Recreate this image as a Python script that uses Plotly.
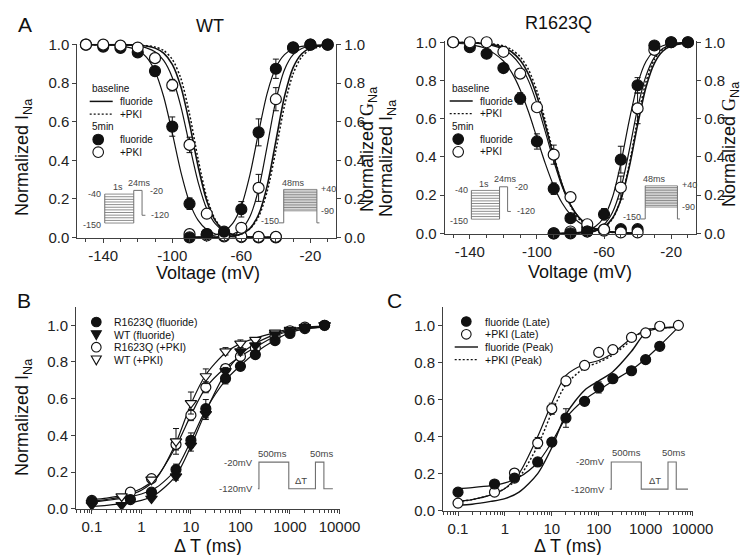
import plotly.graph_objects as go

W, H = 749, 555
FONT = "Arial, Liberation Sans, sans-serif"
INK = "#111111"
AXC = "#404040"
GREY = "#707070"
DOTS = "2px,2px"

# ---------------- Panel A : steady-state inactivation / activation ----------------
V_inact = [-150, -140, -130, -120, -110, -100, -90, -80, -70, -60, -50, -40]
V_act = [-90, -80, -70, -60, -50, -40, -30, -20, -10]

WT_inact_F = [1.0, 0.99, 0.983, 0.96, 0.863, 0.575, 0.175, 0.017, 0.005, 0.002, 0.0, 0.0]
WT_inact_F_err = [0, 0, 0, 0, 0.01, 0.05, 0.03, 0, 0, 0, 0, 0]
WT_inact_P = [1.0, 1.0, 0.995, 0.985, 0.93, 0.79, 0.48, 0.123, 0.017, 0.005, 0.003, 0.003]
WT_inact_P_err = [0, 0, 0, 0, 0, 0.03, 0.04, 0.02, 0, 0, 0, 0]
WT_act_F = [0.0, 0.017, 0.03, 0.146, 0.545, 0.875, 0.986, 1.0, 1.0]
WT_act_F_err = [0, 0, 0, 0.04, 0.07, 0.05, 0, 0, 0]
WT_act_P = [0.017, 0.01, 0.01, 0.05, 0.257, 0.717, 0.983, 1.0, 1.0]
WT_act_P_err = [0, 0, 0, 0.02, 0.07, 0.06, 0, 0, 0]

R_inact_F = [1.0, 0.974, 0.94, 0.865, 0.706, 0.481, 0.234, 0.08, 0.03, 0.02, 0.022, 0.022]
R_inact_F_err = [0, 0, 0, 0, 0.03, 0.04, 0.03, 0, 0, 0, 0, 0]
R_inact_P = [1.0, 1.0, 1.0, 0.95, 0.836, 0.66, 0.412, 0.19, 0.048, 0.014, 0.005, 0.005]
R_inact_P_err = [0, 0, 0, 0, 0, 0.02, 0.05, 0, 0, 0, 0, 0]
R_act_F = [0.0, 0.0, 0.01, 0.1, 0.386, 0.775, 0.983, 1.0, 1.0]
R_act_F_err = [0, 0, 0, 0.03, 0.07, 0.04, 0, 0, 0]
R_act_P = [0.0, 0.01, 0.01, 0.02, 0.24, 0.654, 0.96, 1.0, 1.0]
R_act_P_err = [0, 0, 0, 0.02, 0.06, 0.08, 0, 0, 0]

# fitted curves, sampled along the plotted lines
V_fit_i = [-150, -140, -130, -120, -115, -110, -105, -100, -95, -90, -85, -80, -75, -70, -65, -60, -50, -40]
V_fit_a = [-90, -85, -80, -75, -70, -65, -60, -55, -50, -45, -40, -35, -30, -25, -20, -10]

WT_fit_i_F5 = [1.0, 0.999, 0.994, 0.971, 0.935, 0.862, 0.731, 0.542, 0.339, 0.182, 0.088, 0.040, 0.018, 0.008, 0.003, 0.002, 0.0, 0.0]
WT_fit_i_P5 = [1.0, 1.0, 0.999, 0.993, 0.983, 0.963, 0.918, 0.830, 0.679, 0.479, 0.286, 0.148, 0.070, 0.032, 0.014, 0.006, 0.001, 0.0]
WT_fit_i_Fb = [1.0, 1.0, 1.0, 0.997, 0.993, 0.982, 0.956, 0.898, 0.781, 0.590, 0.367, 0.189, 0.086, 0.036, 0.015, 0.006, 0.001, 0.0]
WT_fit_i_Pb = [1.0, 1.0, 1.0, 0.998, 0.995, 0.988, 0.970, 0.924, 0.824, 0.640, 0.405, 0.207, 0.091, 0.037, 0.014, 0.006, 0.001, 0.0]
WT_fit_a_F5 = [0.001, 0.002, 0.005, 0.013, 0.031, 0.073, 0.163, 0.326, 0.545, 0.749, 0.881, 0.948, 0.979, 0.991, 0.996, 0.999]
WT_fit_a_P5 = [0.0, 0.0, 0.001, 0.002, 0.006, 0.016, 0.043, 0.109, 0.25, 0.475, 0.711, 0.870, 0.948, 0.980, 0.993, 0.999]
WT_fit_a_Fb = [0.0, 0.0, 0.0, 0.001, 0.003, 0.007, 0.018, 0.047, 0.119, 0.269, 0.5, 0.731, 0.881, 0.953, 0.982, 0.998]
WT_fit_a_Pb = [0.0, 0.0, 0.0, 0.001, 0.003, 0.007, 0.017, 0.044, 0.107, 0.240, 0.452, 0.683, 0.849, 0.937, 0.975, 0.996]

R_fit_i_F5 = [0.996, 0.988, 0.966, 0.902, 0.841, 0.752, 0.635, 0.5, 0.365, 0.248, 0.159, 0.098, 0.058, 0.034, 0.020, 0.012, 0.004, 0.001]
R_fit_i_P5 = [0.999, 0.997, 0.989, 0.963, 0.932, 0.881, 0.798, 0.679, 0.531, 0.378, 0.245, 0.148, 0.085, 0.047, 0.026, 0.014, 0.004, 0.001]
R_fit_i_Fb = [1.0, 0.998, 0.993, 0.973, 0.949, 0.906, 0.832, 0.718, 0.566, 0.401, 0.256, 0.150, 0.083, 0.044, 0.023, 0.012, 0.003, 0.001]
R_fit_i_Pb = [1.0, 0.999, 0.995, 0.981, 0.961, 0.924, 0.856, 0.745, 0.588, 0.412, 0.255, 0.144, 0.076, 0.039, 0.019, 0.010, 0.002, 0.0]
R_fit_a_F5 = [0.0, 0.001, 0.003, 0.006, 0.015, 0.037, 0.086, 0.189, 0.367, 0.590, 0.781, 0.899, 0.956, 0.982, 0.993, 0.999]
R_fit_a_P5 = [0.0, 0.001, 0.001, 0.003, 0.008, 0.020, 0.047, 0.110, 0.235, 0.433, 0.654, 0.824, 0.921, 0.967, 0.986, 0.998]
R_fit_a_Fb = [0.0, 0.0, 0.001, 0.002, 0.006, 0.014, 0.034, 0.079, 0.176, 0.346, 0.568, 0.765, 0.890, 0.953, 0.980, 0.997]
R_fit_a_Pb = [0.0, 0.0, 0.001, 0.002, 0.005, 0.012, 0.030, 0.076, 0.177, 0.360, 0.595, 0.793, 0.910, 0.963, 0.986, 0.998]

# ---------------- Panel B : recovery from inactivation ----------------
B_x_circ = [0.1, 0.6, 1.6, 5, 10, 20, 50, 100, 200, 500, 1000, 2000, 5000]
B_x_tri = [0.1, 0.4, 1.6, 5, 10, 20, 50, 100, 200, 500, 1000, 2000, 5000]
B_R_F = [0.04, 0.05, 0.09, 0.213, 0.373, 0.545, 0.71, 0.776, 0.84, 0.916, 0.955, 0.982, 1.0]
B_R_F_err = [0, 0, 0.01, 0.03, 0.04, 0.05, 0.03, 0.02, 0.02, 0.01, 0.01, 0, 0]
B_WT_F = [0.02, 0.02, 0.055, 0.176, 0.344, 0.516, 0.75, 0.858, 0.89, 0.95, 0.97, 0.985, 1.0]
B_WT_F_err = [0, 0, 0, 0.02, 0.03, 0.03, 0.02, 0.02, 0.01, 0, 0, 0, 0]
B_R_P = [0.045, 0.09, 0.164, 0.35, 0.51, 0.662, 0.764, 0.83, 0.876, 0.94, 0.97, 0.99, 1.0]
B_R_P_err = [0, 0, 0.02, 0.03, 0.03, 0.03, 0.02, 0.02, 0.02, 0.01, 0, 0, 0]
B_WT_P = [0.03, 0.067, 0.158, 0.367, 0.576, 0.722, 0.858, 0.9, 0.92, 0.96, 0.975, 0.99, 1.0]
B_WT_P_err = [0, 0, 0, 0.07, 0.06, 0.04, 0.02, 0.02, 0.01, 0, 0, 0, 0]

B_fit_x = [0.1, 0.2, 0.5, 1, 2, 5, 10, 20, 50, 100, 200, 500, 1000, 2000, 5000]
B_fit_R_F = [0.035, 0.045, 0.06, 0.08, 0.115, 0.215, 0.37, 0.54, 0.70, 0.78, 0.85, 0.92, 0.96, 0.98, 0.99]
B_fit_WT_F = [0.012, 0.018, 0.03, 0.045, 0.08, 0.18, 0.34, 0.53, 0.74, 0.84, 0.9, 0.95, 0.975, 0.985, 0.99]
B_fit_R_P = [0.05, 0.058, 0.08, 0.11, 0.17, 0.34, 0.51, 0.66, 0.77, 0.83, 0.88, 0.94, 0.97, 0.985, 0.99]
B_fit_WT_P = [0.04, 0.05, 0.07, 0.1, 0.165, 0.36, 0.57, 0.73, 0.85, 0.9, 0.93, 0.96, 0.98, 0.99, 0.995]

# ---------------- Panel C : late vs peak current recovery ----------------
C_x_F = [0.1, 0.6, 1.6, 5, 10, 20, 50, 100, 200, 500, 1000, 2000]
C_F_late = [0.1, 0.144, 0.176, 0.263, 0.37, 0.5, 0.59, 0.665, 0.712, 0.755, 0.815, 0.887]
C_F_late_err = [0, 0, 0, 0.02, 0.02, 0.05, 0, 0.03, 0, 0, 0, 0]
C_x_P = [0.1, 0.6, 1.6, 5, 10, 20, 50, 100, 200, 500, 1000, 2000, 5000]
C_P_late = [0.041, 0.1, 0.203, 0.365, 0.55, 0.7, 0.784, 0.854, 0.869, 0.935, 0.959, 0.995, 1.0]
C_P_late_err = [0, 0, 0, 0.03, 0.03, 0, 0.02, 0, 0.02, 0.01, 0, 0, 0]

C_fit_x = [0.1, 0.2, 0.5, 1, 2, 5, 10, 20, 50, 100, 200, 500, 1000, 2000, 5000]
C_fit_F_late = [0.12, 0.125, 0.135, 0.15, 0.18, 0.26, 0.37, 0.5, 0.6, 0.65, 0.7, 0.76, 0.82, 0.89, 0.99]
C_fit_P_late = [0.05, 0.06, 0.085, 0.12, 0.2, 0.4, 0.58, 0.73, 0.79, 0.81, 0.85, 0.93, 0.975, 0.985, 0.99]
C_fit_F_peak = [0.03, 0.035, 0.05, 0.065, 0.1, 0.2, 0.34, 0.52, 0.65, 0.7, 0.75, 0.86, 0.96, 0.985, 0.99]
C_fit_P_peak = [0.05, 0.06, 0.085, 0.12, 0.18, 0.35, 0.53, 0.68, 0.77, 0.8, 0.84, 0.92, 0.975, 0.985, 0.99]

volt_ticks = [-140, -100, -60, -20]
volt_ticktext = ["-140", "-100", "-60", "-20"]
norm_ticks = [0, 0.2, 0.4, 0.6, 0.8, 1.0]
norm_ticktext = ["0.0", "0.2", "0.4", "0.6", "0.8", "1.0"]
log_ticks = [0.1, 1, 10, 100, 1000, 10000]
log_ticktext = ["0.1", "1", "10", "100", "1000", "10000"]

fig = go.Figure()


def points(x, y, err, xa, ya, filled, symbol="circle", size=11):
    fig.add_trace(go.Scatter(
        x=x, y=y, mode="markers", xaxis=xa, yaxis=ya, cliponaxis=False, showlegend=False,
        marker=dict(symbol=symbol, size=size, color=INK if filled else "white",
                    line=dict(color=INK, width=1.2)),
        error_y=dict(type="data", array=err, color=INK, thickness=1, width=3),
    ))


def curve(x, y, xa, ya, dash="solid", width=1.2):
    fig.add_trace(go.Scatter(
        x=x, y=y, mode="lines", xaxis=xa, yaxis=ya, showlegend=False, hoverinfo="skip",
        line=dict(color=INK, width=width, dash=dash, shape="spline", smoothing=0.8),
    ))


# Panel A WT : inactivation on left axis (y), activation on right axis (y5)
curve(V_fit_i, WT_fit_i_Fb, "x", "y", width=1.6)
curve(V_fit_i, WT_fit_i_Pb, "x", "y", dash=DOTS, width=1.5)
curve(V_fit_i, WT_fit_i_F5, "x", "y")
curve(V_fit_i, WT_fit_i_P5, "x", "y")
curve(V_fit_a, WT_fit_a_Fb, "x", "y5", width=1.6)
curve(V_fit_a, WT_fit_a_Pb, "x", "y5", dash=DOTS, width=1.5)
curve(V_fit_a, WT_fit_a_F5, "x", "y5")
curve(V_fit_a, WT_fit_a_P5, "x", "y5")
points(V_inact, WT_inact_F, WT_inact_F_err, "x", "y", True)
points(V_inact, WT_inact_P, WT_inact_P_err, "x", "y", False)
points(V_act, WT_act_P, WT_act_P_err, "x", "y5", False)
points(V_act, WT_act_F, WT_act_F_err, "x", "y5", True)

# Panel A R1623Q
curve(V_fit_i, R_fit_i_Fb, "x2", "y2", width=1.6)
curve(V_fit_i, R_fit_i_Pb, "x2", "y2", dash=DOTS, width=1.5)
curve(V_fit_i, R_fit_i_F5, "x2", "y2")
curve(V_fit_i, R_fit_i_P5, "x2", "y2")
curve(V_fit_a, R_fit_a_Fb, "x2", "y6", width=1.6)
curve(V_fit_a, R_fit_a_Pb, "x2", "y6", dash=DOTS, width=1.5)
curve(V_fit_a, R_fit_a_F5, "x2", "y6")
curve(V_fit_a, R_fit_a_P5, "x2", "y6")
points(V_inact, R_inact_F, R_inact_F_err, "x2", "y2", True)
points(V_inact, R_inact_P, R_inact_P_err, "x2", "y2", False)
points(V_act, R_act_P, R_act_P_err, "x2", "y6", False)
points(V_act, R_act_F, R_act_F_err, "x2", "y6", True)

# Panel B
for yy in (B_fit_R_F, B_fit_WT_F, B_fit_R_P, B_fit_WT_P):
    curve(B_fit_x, yy, "x3", "y3")
points(B_x_circ, B_R_P, B_R_P_err, "x3", "y3", False, size=10)
points(B_x_tri, B_WT_P, B_WT_P_err, "x3", "y3", False, "triangle-down", size=10)
points(B_x_circ, B_R_F, B_R_F_err, "x3", "y3", True, size=10)
points(B_x_tri, B_WT_F, B_WT_F_err, "x3", "y3", True, "triangle-down", size=10)

# Panel C
curve(C_fit_x, C_fit_F_late, "x4", "y4")
curve(C_fit_x, C_fit_P_late, "x4", "y4")
curve(C_fit_x, C_fit_F_peak, "x4", "y4", width=1.4)
curve(C_fit_x, C_fit_P_peak, "x4", "y4", dash=DOTS, width=1.4)
points(C_x_P, C_P_late, C_P_late_err, "x4", "y4", False, size=10)
points(C_x_F, C_F_late, C_F_late_err, "x4", "y4", True, size=10)


# ---------------- axes ----------------
def dx(a, b):
    return [a / W, b / W]


def dy(top, bottom):
    return [1 - bottom / H, 1 - top / H]


tickfont = dict(family=FONT, size=15, color="#222")
base = dict(showline=True, linecolor=AXC, linewidth=1, ticks="outside", ticklen=4, tickcolor=AXC,
            showgrid=False, zeroline=False, tickfont=tickfont, automargin=False)

volt_axis = dict(base, range=[-155, -5], tickmode="array", tickvals=volt_ticks, ticktext=volt_ticktext,
                 minor=dict(ticks="outside", ticklen=3, dtick=10, tick0=-150, tickcolor=AXC))
norm_axis = dict(base, range=[-0.003, 1.005], tickmode="array", tickvals=norm_ticks, ticktext=norm_ticktext)
log_axis = dict(base, type="log", range=[-1.32, 4.01], tickmode="array", tickvals=log_ticks,
                ticktext=log_ticktext, minor=dict(ticks="outside", ticklen=3, dtick="D1", tickcolor=AXC))
rec_axis = dict(base, range=[0, 1.1], tickmode="array", tickvals=norm_ticks, ticktext=norm_ticktext)

fig.update_layout(
    xaxis=dict(volt_axis, domain=dx(69.3, 328.3), anchor="y"),
    yaxis=dict(norm_axis, domain=dy(35.7, 230), anchor="x"),
    yaxis5=dict(norm_axis, overlaying="y", side="right", anchor="x"),
    xaxis2=dict(volt_axis, domain=dx(436.7, 688.3), anchor="y2"),
    yaxis2=dict(norm_axis, domain=dy(33.3, 226), anchor="x2"),
    yaxis6=dict(norm_axis, overlaying="y2", side="right", anchor="x2"),
    xaxis3=dict(log_axis, domain=dx(68, 332), anchor="y3"),
    yaxis3=dict(rec_axis, domain=dy(298.9, 500.7), anchor="x3"),
    xaxis4=dict(log_axis, domain=dx(435, 685), anchor="y4"),
    yaxis4=dict(rec_axis, domain=dy(298.8, 502.7), anchor="x4"),
)

# ---------------- text ----------------
annotations = []
shapes = []


def ptxt(x, y, s, size, xanchor="center", angle=0, color=INK):
    annotations.append(dict(x=x / W, y=1 - y / H, xref="paper", yref="paper", text=s, showarrow=False,
                            xanchor=xanchor, yanchor="middle", textangle=angle,
                            font=dict(family=FONT, size=size, color=color)))


def dtxt(xr, yr, x, y, s, size=9, xanchor="center"):
    annotations.append(dict(x=x, y=y, xref=xr, yref=yr, text=s, showarrow=False,
                            xanchor=xanchor, yanchor="middle",
                            font=dict(family=FONT, size=size, color="#444")))


INA = "Normalized I<sub>Na</sub>"
GNA = "Normalized <span style='font-family:Liberation Serif, Times New Roman, serif'>G</span><sub>Na</sub>"

ptxt(16.7, 16.7, "A", 21)
ptxt(16, 292, "B", 21)
ptxt(386, 292, "C", 21)
ptxt(202, 18.3, "WT", 18)
ptxt(550, 15, "R1623Q", 18)
# rotated titles: the subscript pushes the rotated box right, so they sit a few px left
ptxt(15, 150, INA, 18, angle=-90)
ptxt(360, 142, GNA, 18, angle=-90)
ptxt(200, 265, "Voltage (mV)", 18)
ptxt(379, 150, INA, 18, angle=-90)
ptxt(722, 137, GNA, 18, angle=-90)
ptxt(571.7, 264, "Voltage (mV)", 18)
ptxt(15, 410, INA, 18, angle=-90)
ptxt(200, 538, "Δ T (ms)", 18)
ptxt(560, 538, "Δ T (ms)", 18)


# ---------------- legends (drawn by hand to keep the tight row spacing) ----------------
def pline(x0, x1, y, dash="solid", width=1.5):
    shapes.append(dict(type="line", xref="paper", yref="paper", x0=x0 / W, x1=x1 / W,
                       y0=1 - y / H, y1=1 - y / H, line=dict(color=INK, width=width, dash=dash)))


def pcircle(cx, cy, r, filled):
    shapes.append(dict(type="circle", xref="paper", yref="paper",
                       x0=(cx - r) / W, x1=(cx + r) / W, y0=1 - (cy + r) / H, y1=1 - (cy - r) / H,
                       fillcolor=INK if filled else "white", line=dict(color=INK, width=1.1)))


def ptri(cx, cy, r, filled):
    pts = [(cx - r, cy - 0.75 * r), (cx + r, cy - 0.75 * r), (cx, cy + r)]
    path = "M " + " L ".join(f"{x / W:.5f},{1 - y / H:.5f}" for x, y in pts) + " Z"
    shapes.append(dict(type="path", xref="paper", yref="paper", path=path,
                       fillcolor=INK if filled else "white", line=dict(color=INK, width=1.1)))


LEG = 10
for lx, ly in ((81.7, 80.7), (441.7, 80.3)):
    step = 12.7
    ptxt(lx, ly, "baseline", LEG, xanchor="left")
    pline(lx, lx + 23, ly + step)
    ptxt(lx + 28, ly + step, "fluoride", LEG, xanchor="left")
    pline(lx, lx + 23, ly + 2 * step, dash=DOTS, width=1.3)
    ptxt(lx + 28, ly + 2 * step, "+PKI", LEG, xanchor="left")
    ptxt(lx, ly + 3 * step, "5min", LEG, xanchor="left")
    pcircle(lx + 8.5, ly + 4 * step, 5.3, True)
    ptxt(lx + 28, ly + 4 * step, "fluoride", LEG, xanchor="left")
    pcircle(lx + 8.5, ly + 5 * step, 5.3, False)
    ptxt(lx + 28, ly + 5 * step, "+PKI", LEG, xanchor="left")

# panel B legend
b_rows = [314, 326.6, 339.2, 351.8]
pcircle(88.3, b_rows[0], 4.8, True)
ptri(88.3, b_rows[1], 5, True)
pcircle(88.3, b_rows[2], 4.8, False)
ptri(88.3, b_rows[3], 5, False)
for yrow, s in zip(b_rows, ["R1623Q (fluoride)", "WT (fluoride)", "R1623Q (+PKI)", "WT (+PKI)"]):
    ptxt(104, yrow, s, 10.5, xanchor="left")

# panel C legend
c_rows = [313.5, 326.3, 339, 351.7]
pcircle(458.3, c_rows[0], 4.8, True)
pcircle(458.3, c_rows[1], 4.8, False)
pline(446.7, 470, c_rows[2], width=1.4)
pline(446.7, 470, c_rows[3], dash=DOTS, width=1.3)
for yrow, s in zip(c_rows, ["fluoride (Late)", "+PKI (Late)", "fluoride (Peak)", "+PKI (Peak)"]):
    ptxt(475, yrow, s, 10.5, xanchor="left")


# ---------------- voltage protocol insets ----------------
def poly(xr, yr, pts, width=1.0):
    path = "M " + " L ".join(f"{x:.4f},{y:.4f}" for x, y in pts)
    shapes.append(dict(type="path", xref=xr, yref=yr, path=path, line=dict(color=GREY, width=width)))


def hline(xr, yr, x0, x1, y, width=0.8):
    shapes.append(dict(type="line", xref=xr, yref=yr, x0=x0, x1=x1, y0=y, y1=y,
                       line=dict(color=GREY, width=width)))


for xa, ya in (("x", "y"), ("x2", "y2")):
    xr, yr = xa + " domain", ya + " domain"
    # inactivation protocol (left)
    for i in range(12):
        hline(xr, yr, 0.106, 0.218, 0.077 + i * (0.226 - 0.077) / 11)
    poly(xr, yr, [(0.106, 0.077), (0.106, 0.226)])
    poly(xr, yr, [(0.218, 0.077), (0.218, 0.245), (0.25, 0.245), (0.25, 0.117), (0.263, 0.117)])
    dtxt(xr, yr, 0.10, 0.226, "-40", xanchor="right")
    dtxt(xr, yr, 0.10, 0.068, "-150", xanchor="right")
    dtxt(xr, yr, 0.157, 0.262, "1s")
    dtxt(xr, yr, 0.241, 0.285, "24ms")
    dtxt(xr, yr, 0.272, 0.242, "-20", xanchor="left")
    dtxt(xr, yr, 0.278, 0.117, "-120", xanchor="left")
    # activation protocol (right)
    for i in range(14):
        hline(xr, yr, 0.797, 0.925, 0.14 + i * (0.25 - 0.14) / 13)
    poly(xr, yr, [(0.778, 0.078), (0.797, 0.078), (0.797, 0.25)])
    poly(xr, yr, [(0.925, 0.25), (0.925, 0.078), (0.935, 0.078)])
    dtxt(xr, yr, 0.834, 0.285, "48ms")
    dtxt(xr, yr, 0.935, 0.254, "+40", xanchor="left")
    dtxt(xr, yr, 0.935, 0.14, "-90", xanchor="left")
    dtxt(xr, yr, 0.787, 0.09, "-150", xanchor="right")

# two-pulse protocol insets (B and C)
for xa, ya, xs, ylo, yhi, lab_x, t500, tdt, t50 in (
        ("x3", "y3", [0.689, 0.693, 0.806, 0.907, 0.939, 0.973], 0.099, 0.231, 0.677, 0.746, 0.853, 0.929),
        ("x4", "y4", [0.667, 0.673, 0.793, 0.9, 0.933, 0.98], 0.106, 0.239, 0.657, 0.733, 0.849, 0.92)):
    xr, yr = xa + " domain", ya + " domain"
    poly(xr, yr, [(xs[0], ylo), (xs[1], ylo), (xs[1], yhi), (xs[2], yhi), (xs[2], ylo), (xs[3], ylo),
                  (xs[3], yhi), (xs[4], yhi), (xs[4], ylo), (xs[5], ylo)], width=1.1)
    dtxt(xr, yr, lab_x, yhi, "-20mV", xanchor="right", size=9.5)
    dtxt(xr, yr, lab_x, ylo, "-120mV", xanchor="right", size=9.5)
    dtxt(xr, yr, t500, yhi + 0.045, "500ms", size=9.5)
    dtxt(xr, yr, tdt, ylo + 0.04, "ΔT", size=9.5)
    dtxt(xr, yr, t50, yhi + 0.045, "50ms", size=9.5)

fig.update_layout(
    width=W, height=H, margin=dict(l=0, r=0, t=0, b=0),
    paper_bgcolor="white", plot_bgcolor="white",
    font=dict(family=FONT, color=INK),
    showlegend=False,
    annotations=annotations, shapes=shapes,
)

fig.write_html("out.html")
